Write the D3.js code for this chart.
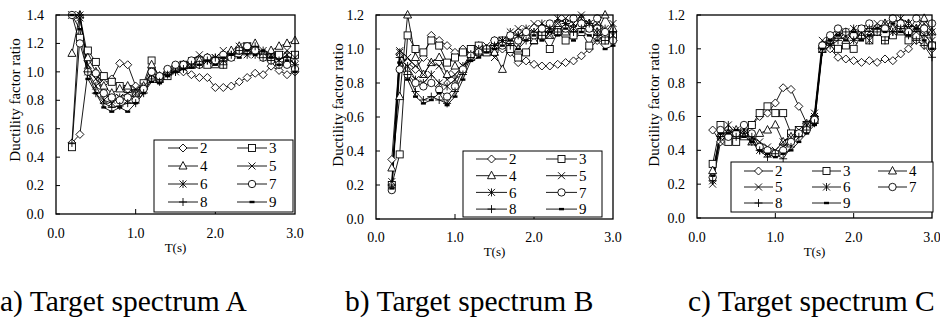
<!DOCTYPE html>
<html>
<head>
<meta charset="utf-8">
<script src="https://cdn.jsdelivr.net/npm/d3@7"></script>
<style>
  body { margin: 0; background: #fff; }
  svg { display: block; }
</style>
</head>
<body>
<svg id="chart" width="940" height="322" font-family="Liberation Serif, Tinos, DejaVu Serif, Noto Serif, serif"></svg>
<script>
// periods (s)
var periods = [0.2,0.3,0.4,0.5,0.6,0.7,0.8,0.9,1.0,1.1,1.2,1.3,1.4,1.5,1.6,1.7,1.8,1.9,2.0,2.1,2.2,2.3,2.4,2.5,2.6,2.7,2.8,2.9,3.0];
var seriesNames = ["2","3","4","5","6","7","8","9"];
var xTicks = [0, 1, 2, 3];
var captions = ["a) Target spectrum A", "b) Target spectrum B", "c) Target spectrum C"];

// ductility factor ratio, one row per series 2..9
var spectrumA = [
  [0.50,0.56,1.00,0.98,0.92,0.95,1.06,1.05,0.90,0.88,0.95,0.97,1.00,1.02,1.00,0.98,0.96,0.96,0.89,0.89,0.90,0.93,0.96,0.99,0.98,1.04,1.01,0.98,1.00],
  [0.47,1.24,1.15,1.07,0.97,0.93,0.90,0.88,0.85,0.92,1.08,0.95,0.97,1.02,1.05,1.05,1.08,1.05,1.08,1.05,1.12,1.15,1.18,1.15,1.12,1.10,1.12,1.08,1.12],
  [1.13,1.40,1.10,1.00,0.90,0.85,0.88,0.90,0.85,0.90,1.05,0.97,1.00,1.02,1.05,1.05,1.08,1.10,1.05,1.10,1.15,1.18,1.15,1.20,1.12,1.15,1.18,1.20,1.22],
  [1.40,1.38,1.05,0.95,0.85,0.80,0.82,0.85,0.88,0.90,1.00,0.96,1.00,1.02,1.05,1.08,1.12,1.08,1.10,1.15,1.10,1.18,1.12,1.15,1.10,1.12,1.08,1.15,1.10],
  [1.40,1.40,1.00,0.90,0.80,0.78,0.82,0.80,0.85,0.88,0.98,0.95,1.00,1.00,1.03,1.05,1.05,1.08,1.10,1.08,1.12,1.15,1.18,1.12,1.15,1.10,1.08,1.12,1.05],
  [1.40,1.20,1.00,0.99,0.85,0.82,0.80,0.82,0.80,0.88,1.00,0.97,1.02,1.05,1.05,1.08,1.05,1.10,1.08,1.12,1.10,1.15,1.18,1.15,1.10,1.08,1.05,1.05,1.02],
  [0.50,1.40,1.00,0.85,0.78,0.75,0.76,0.78,0.78,0.85,0.95,0.93,0.98,1.00,1.02,1.05,1.05,1.08,1.10,1.05,1.12,1.15,1.12,1.18,1.10,1.08,1.05,1.10,1.05],
  [1.40,1.30,0.95,0.85,0.75,0.72,0.75,0.72,0.78,0.85,0.93,0.92,0.97,1.00,1.02,1.03,1.05,1.08,1.05,1.10,1.12,1.10,1.15,1.12,1.15,1.10,1.05,1.08,1.00]
];
var spectrumB = [
  [0.35,0.97,0.92,0.88,0.95,1.08,1.05,1.02,0.98,1.00,0.98,1.02,1.00,1.05,1.00,0.98,0.92,0.93,0.91,0.90,0.90,0.91,0.92,0.93,0.96,1.00,1.05,1.08,1.05],
  [0.20,0.38,1.08,1.00,0.98,1.05,1.02,0.92,0.95,0.98,1.00,1.02,0.98,1.00,1.05,1.00,0.95,0.98,1.05,1.08,1.00,1.10,1.05,1.08,1.10,1.02,1.12,1.05,1.08],
  [0.30,0.72,1.20,0.95,0.85,0.92,0.95,0.85,0.90,0.88,0.95,0.98,1.00,0.98,0.88,1.05,1.00,1.10,1.05,1.12,1.08,1.15,1.10,1.12,1.18,1.15,1.10,1.20,1.12],
  [0.22,0.99,0.95,0.90,0.85,0.92,0.90,0.82,0.85,0.90,0.95,1.00,1.02,0.95,1.05,1.08,1.12,1.10,1.15,1.12,1.08,1.15,1.18,1.15,1.20,1.12,1.15,1.10,1.15],
  [0.18,0.98,0.90,0.82,0.80,0.85,0.80,0.78,0.82,0.90,0.97,1.00,1.00,1.02,1.05,1.10,1.08,1.12,1.10,1.15,1.12,1.18,1.15,1.12,1.18,1.15,1.10,1.12,1.08],
  [0.17,0.88,0.85,0.80,0.78,0.80,0.76,0.72,0.78,0.88,0.96,0.98,1.00,1.05,1.02,1.08,1.05,1.10,1.08,1.12,1.15,1.10,1.12,1.18,1.15,1.12,1.18,1.10,1.05],
  [0.20,0.95,0.85,0.75,0.70,0.72,0.70,0.68,0.75,0.85,0.95,0.97,1.00,1.02,1.05,1.02,1.08,1.05,1.10,1.08,1.12,1.10,1.15,1.10,1.12,1.15,1.08,1.05,1.10],
  [0.18,0.92,0.82,0.72,0.68,0.70,0.74,0.67,0.72,0.82,0.93,0.95,0.98,1.00,1.02,1.05,1.00,1.05,1.08,1.05,1.10,1.08,1.12,1.05,1.10,1.08,1.05,1.00,1.02]
];
var spectrumC = [
  [0.52,0.45,0.50,0.48,0.50,0.55,0.60,0.62,0.68,0.77,0.76,0.66,0.56,0.60,1.00,1.00,0.95,0.94,0.93,0.92,0.93,0.92,0.94,0.93,0.97,1.00,1.05,1.02,1.00],
  [0.32,0.55,0.45,0.45,0.50,0.55,0.62,0.66,0.62,0.62,0.50,0.52,0.55,0.58,1.00,1.05,1.00,1.02,1.00,1.08,1.05,1.10,1.05,1.08,1.12,1.05,1.08,1.10,1.02],
  [0.28,0.50,0.50,0.52,0.48,0.45,0.50,0.52,0.55,0.45,0.48,0.50,0.55,0.60,1.02,1.05,1.08,1.05,1.10,1.08,1.12,1.10,1.15,1.12,1.10,1.15,1.12,1.18,1.10],
  [0.20,0.45,0.50,0.52,0.50,0.48,0.45,0.42,0.40,0.45,0.48,0.52,0.55,0.62,1.05,1.02,1.08,1.10,1.05,1.12,1.10,1.15,1.12,1.18,1.15,1.12,1.10,1.15,1.05],
  [0.22,0.50,0.55,0.50,0.52,0.45,0.40,0.38,0.38,0.42,0.45,0.50,0.55,0.60,1.00,1.05,1.10,1.08,1.12,1.10,1.05,1.12,1.15,1.10,1.18,1.15,1.12,1.08,1.10],
  [0.24,0.52,0.48,0.50,0.55,0.50,0.42,0.40,0.38,0.40,0.45,0.50,0.52,0.58,1.02,1.08,1.12,1.10,1.08,1.12,1.15,1.10,1.12,1.18,1.15,1.10,1.18,1.12,1.15],
  [0.22,0.48,0.52,0.48,0.50,0.48,0.40,0.36,0.38,0.35,0.42,0.48,0.52,0.56,0.98,1.02,1.05,1.10,1.05,1.08,1.12,1.10,1.05,1.10,1.12,1.08,1.05,1.02,0.95],
  [0.25,0.50,0.50,0.52,0.48,0.45,0.40,0.38,0.36,0.38,0.40,0.45,0.50,0.55,1.00,1.05,1.08,1.05,1.10,1.05,1.08,1.12,1.10,1.15,1.10,1.08,1.12,1.05,1.00]
];

var panels = [
  { data: spectrumA, left: 56, right: 295, top: 15, bottom: 214, yMax: 1.4, titleX: 15, titleY: 100, xLabelY: 233, tsY: 247,
    captionX: 0,
    legend: { x: 154, y: 140, w: 139, h: 72, cols: 2, colX: [14, 83], lineLen: 30, row0: 8, rowDy: 18 } },
  { data: spectrumB, left: 376, right: 613, top: 15, bottom: 219, yMax: 1.2, titleX: 338, titleY: 105, xLabelY: 237, tsY: 251,
    captionX: 345,
    legend: { x: 463, y: 151, w: 139, h: 66, cols: 2, colX: [13, 83], lineLen: 31, row0: 8, rowDy: 16.7 } },
  { data: spectrumC, left: 697, right: 932, top: 15, bottom: 218, yMax: 1.2, titleX: 654, titleY: 105, xLabelY: 237, tsY: 251,
    captionX: 688,
    legend: { x: 731, y: 162, w: 202, h: 50, cols: 3, colX: [13, 81, 147], lineLen: 29, row0: 9, rowDy: 16 } }
];

var svg = d3.select("#chart");

// marker shapes for series 2..9
function drawMarker(g, i) {
  if (i === 0) {
    g.append("path").attr("d", "M0,-4L4,0L0,4L-4,0Z").attr("fill", "#fff").attr("stroke", "#000");
  } else if (i === 1) {
    g.append("rect").attr("x", -3.5).attr("y", -3.5).attr("width", 7).attr("height", 7).attr("fill", "#fff").attr("stroke", "#000");
  } else if (i === 2) {
    g.append("path").attr("d", "M0,-4.5L4,3L-4,3Z").attr("fill", "#fff").attr("stroke", "#000");
  } else if (i === 3) {
    g.append("path").attr("d", "M-3.5,-3.5L3.5,3.5M-3.5,3.5L3.5,-3.5").attr("stroke", "#000");
  } else if (i === 4) {
    g.append("path").attr("d", "M-3.5,-3.5L3.5,3.5M-3.5,3.5L3.5,-3.5M0,-4L0,4").attr("stroke", "#000");
  } else if (i === 5) {
    g.append("circle").attr("r", 3.7).attr("fill", "#fff").attr("stroke", "#000");
  } else if (i === 6) {
    g.append("path").attr("d", "M-4,0L4,0M0,-4L0,4").attr("stroke", "#000");
  } else {
    g.append("rect").attr("x", -2.5).attr("y", -1.2).attr("width", 5).attr("height", 2.4).attr("fill", "#000");
  }
}

panels.forEach(function(p, pi) {
  var x = d3.scaleLinear().domain([0, 3]).range([p.left, p.right]);
  var y = d3.scaleLinear().domain([0, p.yMax]).range([p.bottom, p.top]);
  var g = svg.append("g");

  var line = d3.line()
    .x(function(d, i) { return x(periods[i]); })
    .y(function(d) { return y(d); });

  // series lines first, then markers
  p.data.forEach(function(vals) {
    g.append("path").datum(vals)
      .attr("fill", "none").attr("stroke", "#000").attr("stroke-width", 0.9)
      .attr("d", line);
  });
  p.data.forEach(function(vals, si) {
    vals.forEach(function(v, i) {
      var m = g.append("g").attr("transform", "translate(" + x(periods[i]) + "," + y(v) + ")")
        .attr("stroke-width", 0.9);
      drawMarker(m, si);
    });
  });

  // frame
  g.append("rect")
    .attr("x", p.left).attr("y", p.top)
    .attr("width", p.right - p.left).attr("height", p.bottom - p.top)
    .attr("fill", "none").attr("stroke", "#000").attr("stroke-width", 1.3);

  // y ticks and labels
  var yTicks = d3.range(0, p.yMax + 0.001, 0.2);
  yTicks.forEach(function(t) {
    g.append("line").attr("x1", p.left).attr("x2", p.left + 4)
      .attr("y1", y(t)).attr("y2", y(t)).attr("stroke", "#000");
    g.append("text").attr("x", p.left - 12).attr("y", y(t)).attr("dy", "0.35em")
      .attr("text-anchor", "end").attr("font-size", 14).text(t.toFixed(1));
  });

  // x ticks and labels
  xTicks.forEach(function(t) {
    if (t > 0 && t < 3) {
      g.append("line").attr("x1", x(t)).attr("x2", x(t))
        .attr("y1", p.bottom).attr("y2", p.bottom - 5).attr("stroke", "#000");
    }
    g.append("text").attr("x", x(t)).attr("y", p.xLabelY).attr("dy", "0.35em")
      .attr("text-anchor", "middle").attr("font-size", 14).text(t.toFixed(1));
  });

  // axis titles
  g.append("text").attr("x", (p.left + p.right) / 2).attr("y", p.tsY).attr("dy", "0.35em")
    .attr("text-anchor", "middle").attr("font-size", 13).text("T(s)");
  g.append("text")
    .attr("transform", "translate(" + p.titleX + "," + p.titleY + ") rotate(-90)")
    .attr("dy", "0.35em").attr("text-anchor", "middle").attr("font-size", 15)
    .text("Ductility factor ratio");

  // legend
  var L = p.legend;
  g.append("rect").attr("x", L.x).attr("y", L.y).attr("width", L.w).attr("height", L.h)
    .attr("fill", "#fff").attr("stroke", "#000").attr("stroke-width", 1);
  seriesNames.forEach(function(name, si) {
    var col = si % L.cols, row = Math.floor(si / L.cols);
    var lx = L.x + L.colX[col], ly = L.y + L.row0 + row * L.rowDy;
    g.append("line").attr("x1", lx).attr("x2", lx + L.lineLen)
      .attr("y1", ly).attr("y2", ly).attr("stroke", "#000").attr("stroke-width", 0.9);
    var m = g.append("g").attr("transform", "translate(" + (lx + L.lineLen / 2) + "," + ly + ")")
      .attr("stroke-width", 0.9);
    drawMarker(m, si);
    g.append("text").attr("x", lx + L.lineLen + 2).attr("y", ly).attr("dy", "0.35em")
      .attr("font-size", 15).text(name);
  });

  // caption
  svg.append("text").attr("x", p.captionX).attr("y", 311)
    .attr("font-size", 29.5).text(captions[pi]);
});
</script>
</body>
</html>
